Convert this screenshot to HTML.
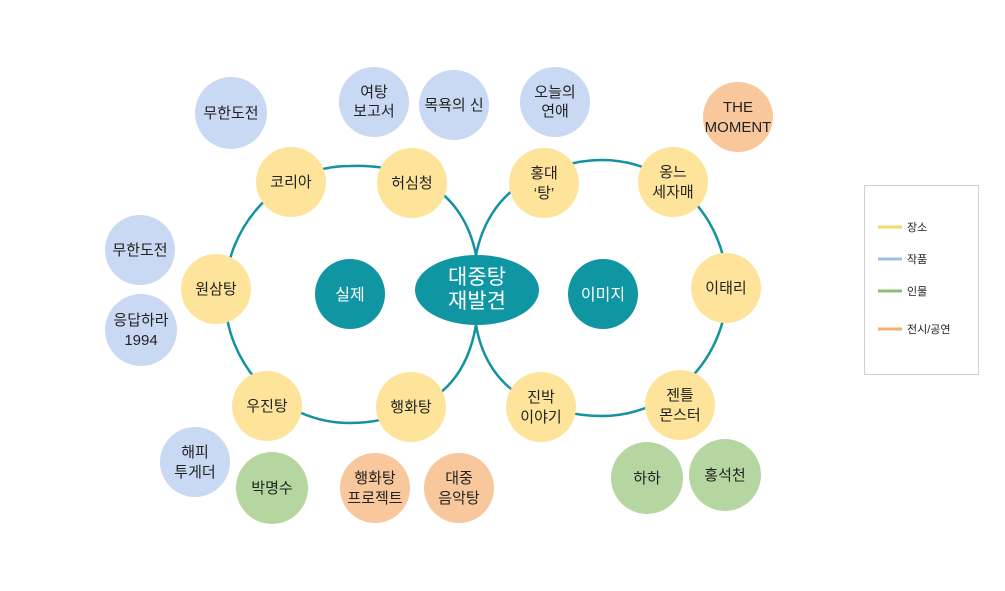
<!DOCTYPE html>
<html><head><meta charset="utf-8"><style>
html,body{margin:0;padding:0;background:#fff;}
svg text{font-family:"Liberation Sans","Noto Sans CJK KR",sans-serif;}
</style></head><body>
<svg width="1005" height="586" viewBox="0 0 1005 586" xmlns="http://www.w3.org/2000/svg">
<rect width="1005" height="586" fill="#fff"/>
<g fill="none" stroke="#13929f" stroke-width="2.5">
<path d="M476,255 C470,225 455,200 430,185 C400,168 375,165 350,166 C280,166 225,225 225,295 C225,365 280,423 350,423 C380,423 405,415 430,400 C455,385 470,360 476,325"/>
<path d="M476,255 C482,225 497,200 520,185 C550,168 575,160 602,160 C671,160 727,218 727,288 C727,358 671,416 602,416 C575,416 550,410 525,398 C500,385 482,360 476,325"/>
</g>
<g font-size="15" fill="#222" text-anchor="middle">
<g fill="#c9d9f4">
<circle cx="231" cy="113" r="36"/><circle cx="374" cy="102" r="35"/><circle cx="454" cy="105" r="35"/>
<circle cx="555" cy="102" r="35"/><circle cx="140" cy="250" r="35"/><circle cx="141" cy="330" r="36"/>
<circle cx="195" cy="462" r="35"/>
</g>
<g fill="#f8c79c">
<circle cx="738" cy="117" r="35"/><circle cx="375" cy="488" r="35"/><circle cx="459" cy="488" r="35"/>
</g>
<g fill="#b5d6a0">
<circle cx="272" cy="488" r="36"/><circle cx="647" cy="478" r="36"/><circle cx="725" cy="475" r="36"/>
</g>
<g fill="#fee49b">
<circle cx="291" cy="182" r="35"/><circle cx="412" cy="183" r="35"/><circle cx="544" cy="183" r="35"/>
<circle cx="673" cy="182" r="35"/><circle cx="216" cy="289" r="35"/><circle cx="726" cy="288" r="35"/>
<circle cx="267" cy="406" r="35"/><circle cx="411" cy="407" r="35"/><circle cx="541" cy="407" r="35"/>
<circle cx="680" cy="405" r="35"/>
</g>
<g fill="#0f96a2">
<circle cx="350" cy="294" r="35"/><circle cx="603" cy="294" r="35"/>
<ellipse cx="477" cy="290" rx="62" ry="35"/>
</g>
<text x="231" y="118">무한도전</text>
<text x="374" y="97">여탕</text><text x="374" y="116">보고서</text>
<text x="454" y="110">목욕의 신</text>
<text x="555" y="97">오늘의</text><text x="555" y="116">연애</text>
<text x="738" y="112">THE</text><text x="738" y="132">MOMENT</text>
<text x="291" y="187">코리아</text>
<text x="412" y="188">허심청</text>
<text x="544" y="178">홍대</text><text x="544" y="198">‘탕’</text>
<text x="673" y="177">옹느</text><text x="673" y="197">세자매</text>
<text x="140" y="255">무한도전</text>
<text x="141" y="325">응답하라</text><text x="141" y="345">1994</text>
<text x="216" y="294">원삼탕</text>
<text x="726" y="293">이태리</text>
<text x="267" y="411">우진탕</text>
<text x="411" y="412">행화탕</text>
<text x="541" y="402">진박</text><text x="541" y="422">이야기</text>
<text x="680" y="400">젠틀</text><text x="680" y="420">몬스터</text>
<text x="195" y="457">해피</text><text x="195" y="477">투게더</text>
<text x="272" y="493">박명수</text>
<text x="375" y="483">행화탕</text><text x="375" y="503">프로젝트</text>
<text x="459" y="483">대중</text><text x="459" y="503">음악탕</text>
<text x="647" y="483">하하</text>
<text x="725" y="480">홍석천</text>
<g fill="#fff" font-size="16"><text x="350" y="300">실제</text><text x="603" y="300">이미지</text></g>
<g fill="#fff" font-size="21"><text x="477" y="284">대중탕</text><text x="477" y="308">재발견</text></g>
</g>
<rect x="864.5" y="185.5" width="114" height="189" fill="#fff" stroke="#d0d0d0"/>
<g stroke-width="3">
<line x1="878" y1="227" x2="902" y2="227" stroke="#f9d66a"/>
<line x1="878" y1="259" x2="902" y2="259" stroke="#9dc0e8"/>
<line x1="878" y1="291" x2="902" y2="291" stroke="#8dbf72"/>
<line x1="878" y1="329" x2="902" y2="329" stroke="#f4b074"/>
</g>
<g font-size="11" fill="#222">
<text x="907" y="231">장소</text><text x="907" y="263">작품</text><text x="907" y="295">인물</text><text x="907" y="333">전시/공연</text>
</g>
</svg>
</body></html>
